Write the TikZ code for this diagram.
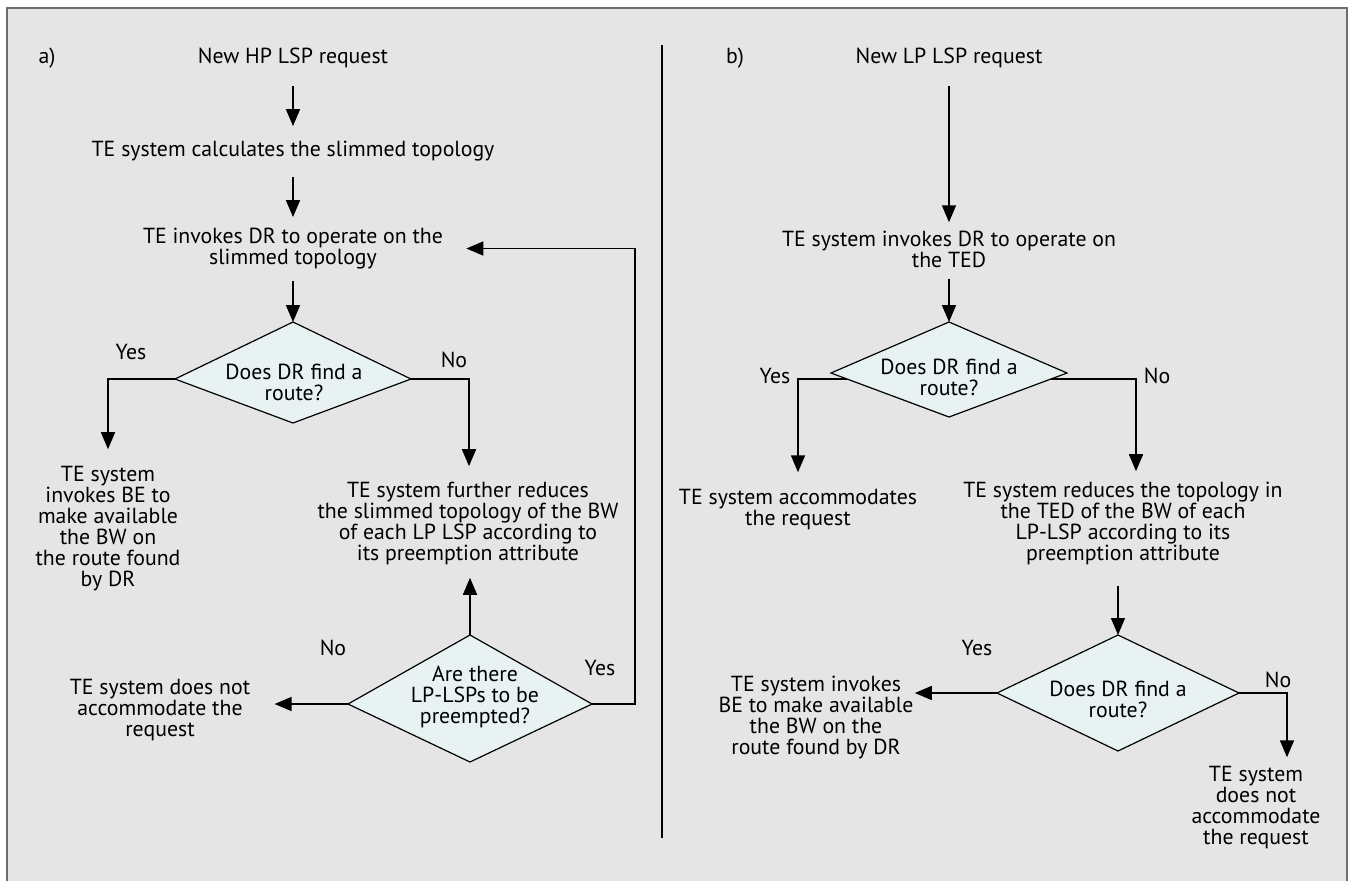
\documentclass[tikz,border=0pt]{standalone}
\usepackage{fontspec}
\setmainfont{PT Sans}
\usetikzlibrary{arrows.meta,calc}
\definecolor{panelbg}{RGB}{229,229,229}
\definecolor{framegray}{RGB}{110,110,110}
\definecolor{decfill}{RGB}{233,242,242}
\newcommand\decision[6]{% name, centre x, top y, side y, bottom y, half width
  \coordinate (#1n) at (#2,#3);
  \coordinate (#1s) at (#2,#5);
  \coordinate (#1w) at ({#2-#6},#4);
  \coordinate (#1e) at ({#2+#6},#4);
  \draw[decbox] (#1n) -- (#1e) -- (#1s) -- (#1w) -- cycle;}
\begin{document}
\begin{tikzpicture}[x=0.5pt,y=-0.5pt,
  txt/.style={align=center,inner sep=0pt,font=\fontsize{10.9pt}{10.5pt}\selectfont},
  lbl/.style={inner sep=0pt,font=\fontsize{10.9pt}{10.5pt}\selectfont},
  decbox/.style={draw=black,line width=0.6pt,fill=decfill,line join=miter},
  arr/.style={line width=0.8pt,-{Triangle[length=8.5pt,width=7pt]}},
  ln/.style={line width=0.8pt}]
\useasboundingbox (0,0) rectangle (1351,880);
% panel with frame
\fill[white] (0,0) rectangle (1351,880);
\draw[fill=panelbg,draw=framegray,line width=1pt] (7,8) rectangle (1347,890);
% separator between the two flows
\draw[line width=0.6pt] (662,45) -- (662,838);

% ---------- a) high priority request ----------
\node[lbl] (la) at (47,58) {a)};
\node[txt] (hpreq) at (293,58) {New HP LSP request};
\node[txt] (slim) at (293,151) {TE system calculates the slimmed topology};
\node[txt] (invk) at (293,248.5) {TE invokes DR to operate on the\\slimmed topology};
\decision{da}{293}{322}{379}{423}{118}
\node[txt] (qa) at (294,382) {Does DR find a\\route?};
\node[lbl] (yesa) at (131,352) {Yes};
\node[lbl] (noa) at (454,360) {No};
\node[txt] (bea) at (108,528.5) {TE system\\invokes BE to\\make available\\the BW on\\the route found\\by DR};
\node[txt] (reda) at (468,523.5) {TE system further reduces\\the slimmed topology of the BW\\of each LP LSP according to\\its preemption attribute};
\decision{db}{470}{635}{704}{762}{122}
\node[txt] (qb) at (475,697) {Are there\\LP-LSPs to be\\preempted?};
\node[lbl] (nob) at (333,648) {No};
\node[lbl] (yesb) at (600,668) {Yes};
\node[txt] (nacca) at (160,710) {TE system does not\\accommodate the\\request};
\coordinate (loop) at (635,704);

\draw[arr,shorten <=8.75pt,shorten >=7.25pt] (hpreq) -- (slim);
\draw[arr,shorten <=7.75pt,shorten >=5.25pt] (slim) -- (invk);
\draw[arr,shorten <=5.75pt] (dan |- invk.south) -- (dan);
\draw[arr,shorten >=8.25pt] (daw) -| (bea.north);
\draw[arr,shorten >=7.75pt] (dae) -| ($(reda.north)+(1,0)$);
\draw[arr,shorten >=6.25pt] (dbn) -- (dbn |- reda.south);
\draw[arr,shorten >=12pt] (dbw) -- (dbw -| nacca.east);
\draw[arr,shorten >=11.5pt] (dbe) -- (loop) |- (invk.east);

% ---------- b) low priority request ----------
\node[lbl] (lb) at (735,58) {b)};
\node[txt] (lpreq) at (949,58) {New LP LSP request};
\node[txt] (invkb) at (949,249) {TE system invokes DR to operate on\\the TED};
\decision{dc}{949}{322}{373}{417}{118}
\node[txt] (qc) at (949,377) {Does DR find a\\route?};
\node[lbl] (yesc) at (775,376) {Yes};
\node[lbl] (noc) at (1157,376) {No};
\node[txt] (acc) at (798,509.5) {TE system accommodates\\the request};
\node[txt] (redb) at (1123,523.5) {TE system reduces the topology in\\the TED of the BW of each\\LP-LSP according to its\\preemption attribute};
\decision{dd}{1118}{635}{693}{751}{121}
\node[txt] (qd) at (1118,699.5) {Does DR find a\\route?};
\node[lbl] (yesd) at (977,648) {Yes};
\node[lbl] (nod) at (1278,680) {No};
\node[txt] (beb) at (816,718) {TE system invokes\\BE to make available\\the BW on the\\route found by DR};
\node[txt] (naccb) at (1256,808) {TE system\\does not\\accommodate\\the request};
\coordinate (cyes) at ($(dcw)!6/44!(dcs)$);
\coordinate (cno) at ($(dce)!6/44!(dcs)$);
\coordinate (cnoc) at (1136,379);
\coordinate (dnoc) at (1287,693);

\draw[arr,shorten <=8.75pt,shorten >=4pt] (lpreq) -- (invkb);
\draw[arr,shorten <=5.75pt] (dcn |- invkb.south) -- (dcn);
\draw[arr,shorten >=8.25pt] (cyes) -| (acc.north);
\draw[arr,shorten >=5.25pt] (cno) -- (cnoc) -- (cnoc |- redb.north);
\draw[arr,shorten <=10.5pt] (ddn |- redb.south) -- (ddn);
\draw[arr,shorten >=0.5pt] (ddw) -- (ddw -| beb.east);
\draw[arr,shorten >=4.5pt] (dde) -- (dnoc) -- (dnoc |- naccb.north);
\end{tikzpicture}
\end{document}
